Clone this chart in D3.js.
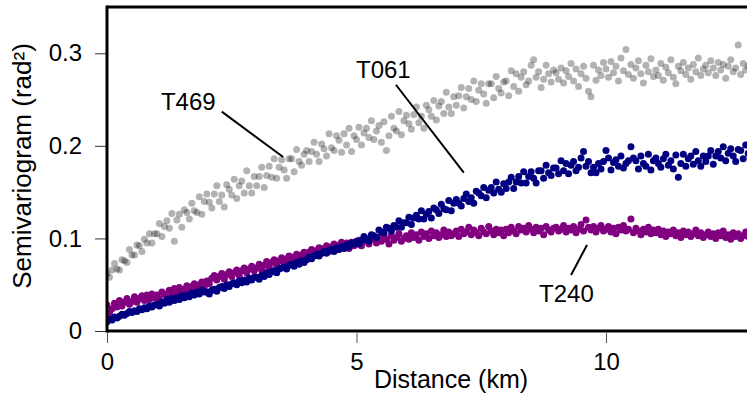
<!DOCTYPE html>
<html>
<head>
<meta charset="utf-8">
<script src="https://cdn.jsdelivr.net/npm/d3@7"></script>
<style>
  html, body { margin: 0; padding: 0; background: #fff; }
  svg { display: block; }
  text { font-family: "Liberation Sans", Arial, sans-serif; fill: #000; }
</style>
</head>
<body>
<svg id="chart" width="747" height="396"></svg>
<script>
// ---------------- DATA ----------------
const distance = [
0.00,0.05,0.10,0.15,0.20,0.25,0.30,0.35,0.40,0.45,0.50,0.55,0.60,0.65,0.70,0.75,0.80,0.85,0.90,0.95,
1.00,1.05,1.10,1.15,1.20,1.25,1.30,1.35,1.40,1.45,1.50,1.55,1.60,1.65,1.70,1.75,1.80,1.85,1.90,1.95,
2.00,2.05,2.10,2.15,2.20,2.25,2.30,2.35,2.40,2.45,2.50,2.55,2.60,2.65,2.70,2.75,2.80,2.85,2.90,2.95,
3.00,3.05,3.10,3.15,3.20,3.25,3.30,3.35,3.40,3.45,3.50,3.55,3.60,3.65,3.70,3.75,3.80,3.85,3.90,3.95,
4.00,4.05,4.10,4.15,4.20,4.25,4.30,4.35,4.40,4.45,4.50,4.55,4.60,4.65,4.70,4.75,4.80,4.85,4.90,4.95,
5.00,5.05,5.10,5.15,5.20,5.25,5.30,5.35,5.40,5.45,5.50,5.55,5.60,5.65,5.70,5.75,5.80,5.85,5.90,5.95,
6.00,6.05,6.10,6.15,6.20,6.25,6.30,6.35,6.40,6.45,6.50,6.55,6.60,6.65,6.70,6.75,6.80,6.85,6.90,6.95,
7.00,7.05,7.10,7.15,7.20,7.25,7.30,7.35,7.40,7.45,7.50,7.55,7.60,7.65,7.70,7.75,7.80,7.85,7.90,7.95,
8.00,8.05,8.10,8.15,8.20,8.25,8.30,8.35,8.40,8.45,8.50,8.55,8.60,8.65,8.70,8.75,8.80,8.85,8.90,8.95,
9.00,9.05,9.10,9.15,9.20,9.25,9.30,9.35,9.40,9.45,9.50,9.55,9.60,9.65,9.70,9.75,9.80,9.85,9.90,9.95,
10.00,10.05,10.10,10.15,10.20,10.25,10.30,10.35,10.40,10.45,10.50,10.55,10.60,10.65,10.70,10.75,10.80,10.85,10.90,10.95,
11.00,11.05,11.10,11.15,11.20,11.25,11.30,11.35,11.40,11.45,11.50,11.55,11.60,11.65,11.70,11.75,11.80,11.85,11.90,11.95,
12.00,12.05,12.10,12.15,12.20,12.25,12.30,12.35,12.40,12.45,12.50,12.55,12.60,12.65,12.70,12.75,12.80,12.85
];

const T469 = [
0.062,0.058,0.066,0.073,0.067,0.066,0.077,0.076,0.074,0.088,0.082,0.082,0.093,0.092,0.086,0.099,0.095,0.105,0.095,0.105,
0.105,0.116,0.102,0.113,0.119,0.111,0.127,0.097,0.120,0.126,0.112,0.131,0.128,0.121,0.138,0.130,0.128,0.145,0.126,0.140,
0.148,0.139,0.133,0.148,0.157,0.140,0.147,0.134,0.158,0.153,0.147,0.164,0.143,0.157,0.162,0.149,0.173,0.157,0.149,0.167,
0.157,0.167,0.177,0.155,0.168,0.178,0.166,0.186,0.165,0.177,0.185,0.174,0.165,0.186,0.186,0.172,0.196,0.183,0.179,0.191,
0.195,0.183,0.194,0.204,0.191,0.183,0.202,0.197,0.189,0.213,0.198,0.195,0.211,0.206,0.193,0.213,0.201,0.219,0.194,0.211,
0.207,0.220,0.201,0.214,0.219,0.209,0.227,0.207,0.216,0.222,0.204,0.226,0.195,0.211,0.232,0.219,0.216,0.237,0.212,0.227,
0.233,0.224,0.218,0.234,0.242,0.225,0.232,0.219,0.244,0.239,0.232,0.249,0.228,0.243,0.248,0.235,0.258,0.242,0.235,0.253,
0.244,0.254,0.263,0.241,0.253,0.262,0.250,0.270,0.248,0.260,0.267,0.256,0.246,0.267,0.267,0.252,0.275,0.262,0.257,0.269,
0.270,0.254,0.281,0.264,0.278,0.259,0.274,0.280,0.266,0.270,0.287,0.293,0.274,0.280,0.263,0.272,0.287,0.278,0.269,0.282,
0.279,0.272,0.284,0.268,0.281,0.275,0.289,0.270,0.283,0.264,0.278,0.286,0.273,0.259,0.253,0.287,0.271,0.282,0.276,0.290,
0.283,0.274,0.291,0.279,0.286,0.270,0.295,0.281,0.304,0.277,0.288,0.273,0.284,0.292,0.278,0.268,0.287,0.280,0.294,0.275,
0.282,0.276,0.289,0.271,0.285,0.279,0.293,0.274,0.267,0.286,0.281,0.290,0.277,0.284,0.272,0.288,0.280,0.295,0.276,0.283,
0.287,0.279,0.292,0.284,0.276,0.290,0.282,0.288,0.273,0.286,0.293,0.280,0.284,0.309,0.277,0.289,0.282,0.286
];

const T061 = [
0.010,0.013,0.012,0.015,0.014,0.016,0.018,0.017,0.019,0.021,0.020,0.022,0.021,0.024,0.023,0.025,0.024,0.027,0.026,0.028,
0.029,0.027,0.031,0.030,0.034,0.031,0.035,0.033,0.036,0.034,0.038,0.036,0.039,0.037,0.041,0.039,0.042,0.040,0.044,0.042,
0.042,0.040,0.044,0.045,0.043,0.047,0.048,0.046,0.050,0.048,0.051,0.052,0.050,0.054,0.052,0.055,0.053,0.057,0.055,0.058,
0.058,0.056,0.060,0.059,0.063,0.061,0.064,0.065,0.063,0.067,0.068,0.069,0.067,0.071,0.072,0.070,0.074,0.072,0.076,0.074,
0.077,0.080,0.078,0.081,0.083,0.081,0.084,0.086,0.084,0.087,0.088,0.086,0.090,0.088,0.091,0.089,0.093,0.091,0.095,0.094,
0.097,0.094,0.098,0.102,0.099,0.097,0.104,0.103,0.101,0.109,0.107,0.106,0.112,0.111,0.108,0.114,0.112,0.119,0.112,0.117,
0.117,0.123,0.115,0.122,0.125,0.121,0.130,0.121,0.126,0.129,0.122,0.133,0.131,0.127,0.137,0.132,0.131,0.141,0.130,0.138,
0.142,0.138,0.135,0.143,0.148,0.140,0.144,0.138,0.151,0.149,0.146,0.155,0.144,0.152,0.155,0.149,0.161,0.153,0.150,0.159,
0.154,0.161,0.166,0.154,0.161,0.167,0.160,0.172,0.160,0.167,0.172,0.165,0.160,0.173,0.173,0.165,0.179,0.171,0.168,0.176,
0.176,0.170,0.184,0.173,0.181,0.170,0.179,0.183,0.173,0.177,0.187,0.194,0.178,0.183,0.171,0.177,0.171,0.181,0.175,0.183,
0.195,0.187,0.174,0.182,0.185,0.178,0.189,0.176,0.181,0.184,0.199,0.187,0.184,0.175,0.189,0.181,0.178,0.191,0.174,0.184,
0.187,0.181,0.177,0.186,0.191,0.179,0.184,0.175,0.190,0.166,0.181,0.191,0.178,0.186,0.189,0.180,0.194,0.184,0.178,0.189,
0.183,0.189,0.195,0.180,0.189,0.194,0.187,0.199,0.184,0.192,0.197,0.189,0.183,0.196,0.195,0.186,0.201,0.192
];

const T240 = [
0.028,0.020,0.024,0.030,0.026,0.033,0.027,0.031,0.035,0.029,0.032,0.037,0.031,0.035,0.038,0.033,0.039,0.034,0.040,0.036,
0.039,0.035,0.042,0.040,0.037,0.044,0.040,0.046,0.042,0.047,0.043,0.045,0.049,0.044,0.048,0.051,0.046,0.050,0.053,0.048,
0.054,0.051,0.057,0.060,0.055,0.059,0.062,0.056,0.061,0.064,0.059,0.063,0.066,0.060,0.065,0.068,0.063,0.067,0.070,0.065,
0.068,0.072,0.066,0.071,0.075,0.069,0.074,0.077,0.071,0.076,0.079,0.073,0.078,0.081,0.075,0.080,0.083,0.078,0.082,0.085,
0.081,0.085,0.088,0.082,0.087,0.090,0.084,0.089,0.092,0.086,0.091,0.094,0.088,0.093,0.096,0.090,0.095,0.089,0.096,0.092,
0.094,0.098,0.092,0.097,0.100,0.094,0.099,0.102,0.095,0.101,0.097,0.104,0.099,0.094,0.103,0.098,0.101,0.105,0.097,0.100,
0.103,0.099,0.106,0.101,0.104,0.098,0.107,0.102,0.105,0.100,0.108,0.103,0.106,0.101,0.104,0.109,0.102,0.107,0.103,0.105,
0.108,0.102,0.110,0.105,0.107,0.112,0.104,0.109,0.106,0.103,0.111,0.107,0.105,0.113,0.108,0.104,0.110,0.106,0.109,0.103,
0.110,0.106,0.112,0.108,0.105,0.113,0.109,0.111,0.107,0.114,0.110,0.106,0.112,0.108,0.111,0.104,0.113,0.109,0.107,0.111,
0.112,0.108,0.110,0.114,0.107,0.111,0.109,0.113,0.106,0.110,0.115,0.108,0.120,0.112,0.109,0.113,0.107,0.111,0.114,0.108,
0.110,0.113,0.107,0.111,0.105,0.112,0.109,0.114,0.108,0.110,0.121,0.106,0.111,0.108,0.104,0.110,0.107,0.112,0.105,0.109,
0.106,0.110,0.104,0.108,0.102,0.107,0.105,0.109,0.103,0.106,0.101,0.108,0.104,0.107,0.102,0.105,0.109,0.103,0.106,0.101,
0.104,0.107,0.102,0.105,0.100,0.106,0.103,0.108,0.101,0.104,0.099,0.106,0.102,0.105,0.100,0.103,0.107,0.102
];

const xTicks = [0, 5, 10];
const yTicks = [0, 0.1, 0.2, 0.3];
const xLabel = "Distance (km)";
const yLabel = "Semivariogram (rad²)";

// annotations in data units: label position and leader line
const annotations = [
  { name: "T469", tx: 1.08, ty: 0.239, x1: 2.30, y1: 0.237, x2: 3.53, y2: 0.188 },
  { name: "T061", tx: 4.99, ty: 0.2735, x1: 5.79, y1: 0.266, x2: 7.15, y2: 0.171 },
  { name: "T240", tx: 8.66, ty: 0.0314, x1: 9.62, y1: 0.093, x2: 9.30, y2: 0.0605 }
];

const seriesList = [
  { name: "T469", values: T469, fill: "#000", opacity: 0.3 },
  { name: "T240", values: T240, fill: "#800080", opacity: 1 },
  { name: "T061", values: T061, fill: "#000080", opacity: 1 }
];

// ---------------- CHART ----------------
const svg = d3.select("#chart");
const mLeft = 107, mRight = 747, mTop = 7, mBottom = 331;

const x = d3.scaleLinear().domain([0, 12.826]).range([mLeft, mRight]);
const y = d3.scaleLinear().domain([0, 0.35]).range([mBottom, mTop]);

// points
svg.append("clipPath").attr("id", "plotclip")
  .append("rect").attr("x", mLeft).attr("y", mTop).attr("width", mRight - mLeft).attr("height", mBottom - mTop);

const pts = svg.append("g").attr("clip-path", "url(#plotclip)");
seriesList.forEach(s => {
  pts.append("g")
    .selectAll("circle")
    .data(distance.map((d, i) => [d, s.values[i]]))
    .join("circle")
    .attr("cx", d => x(d[0]))
    .attr("cy", d => y(d[1]))
    .attr("r", 3.5)
    .attr("fill", s.fill)
    .attr("fill-opacity", s.opacity);
});

// y axis
const yAxis = svg.append("g").attr("transform", `translate(${mLeft},0)`)
  .call(d3.axisLeft(y).tickValues(yTicks)
    .tickFormat(d => d === 0 ? "0" : d.toFixed(1))
    .tickSize(12).tickPadding(13));
yAxis.select(".domain").remove();
yAxis.selectAll(".tick line").attr("stroke", "#333").attr("stroke-width", 1);
yAxis.selectAll(".tick text").attr("font-size", 24).attr("font-family", "Liberation Sans, Arial, sans-serif");

// x axis
const xAxis = svg.append("g").attr("transform", `translate(0,${mBottom})`)
  .call(d3.axisBottom(x).tickValues(xTicks).tickFormat(d3.format("d"))
    .tickSize(12).tickPadding(10));
xAxis.select(".domain").remove();
xAxis.selectAll(".tick line").attr("stroke", "#555").attr("stroke-width", 1).attr("y1", 2);
xAxis.selectAll(".tick text").attr("font-size", 24).attr("font-family", "Liberation Sans, Arial, sans-serif");

// frame lines (left, bottom, top)
const frame = svg.append("g").attr("stroke", "#000").attr("stroke-width", 3).attr("fill", "none");
frame.append("line").attr("x1", mLeft).attr("x2", mLeft).attr("y1", mTop - 1.5).attr("y2", mBottom + 1.5);
frame.append("line").attr("x1", mLeft).attr("x2", mRight).attr("y1", mBottom).attr("y2", mBottom);
frame.append("line").attr("x1", mLeft).attr("x2", mRight).attr("y1", mTop).attr("y2", mTop);

// axis titles
svg.append("text")
  .attr("x", 451).attr("y", 388)
  .attr("text-anchor", "middle")
  .attr("font-size", 25)
  .text(xLabel);

svg.append("text")
  .attr("transform", `translate(31,166) rotate(-90)`)
  .attr("text-anchor", "middle")
  .attr("font-size", 26)
  .text(yLabel);

// annotations
const ann = svg.append("g");
annotations.forEach(a => {
  ann.append("line")
    .attr("x1", x(a.x1)).attr("y1", y(a.y1))
    .attr("x2", x(a.x2)).attr("y2", y(a.y2))
    .attr("stroke", "#000").attr("stroke-width", 2);
  ann.append("text")
    .attr("x", x(a.tx)).attr("y", y(a.ty))
    .attr("font-size", 24)
    .text(a.name);
});
</script>
</body>
</html>
